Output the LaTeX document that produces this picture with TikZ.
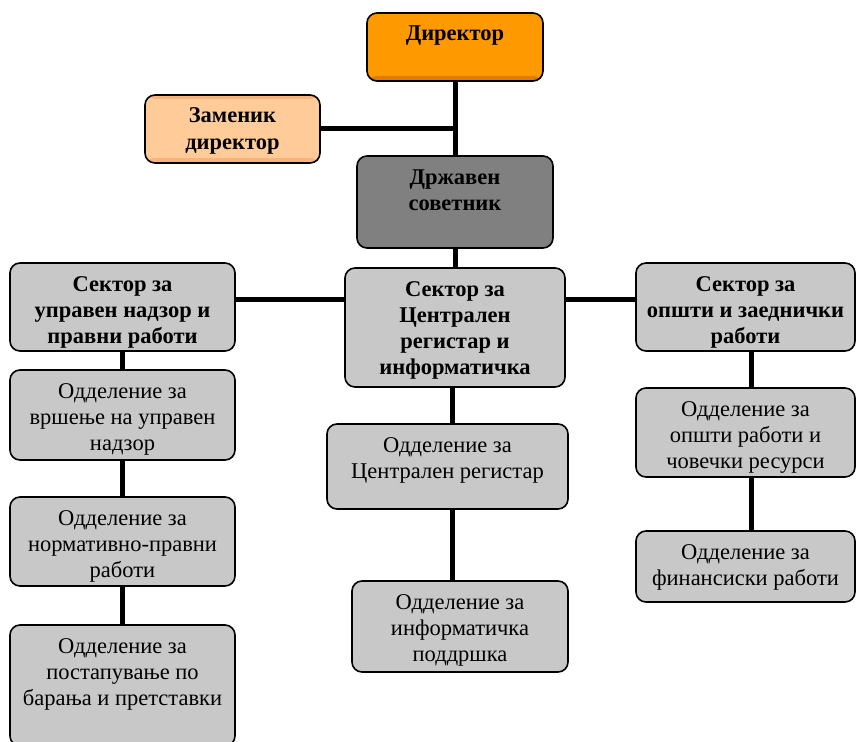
\documentclass[tikz,border=0pt]{standalone}
\usepackage{fontspec}
\setmainfont{Liberation Serif}
\usetikzlibrary{backgrounds}
\definecolor{dirorange}{HTML}{FF9900}
\definecolor{dirdark}{HTML}{E07A00}
\definecolor{deplight}{HTML}{FFCC99}
\definecolor{depdark}{HTML}{F9B27C}
\definecolor{boxgray}{HTML}{C8C8C8}
\definecolor{darkgray}{HTML}{808080}
\tikzset{
  orgbox/.style={draw=black, line width=1.6pt, rounded corners=10pt, inner sep=0pt, fill=boxgray,
    font=\fontsize{22.5}{26}\selectfont},
  headbox/.style={orgbox, font=\fontsize{22.5}{26}\selectfont\bfseries},
  link/.style={line width=5pt, black},
  dirbox/.style={headbox, fill=dirorange,
    path picture={\fill[dirdark] (path picture bounding box.south west) rectangle ([yshift=5pt]path picture bounding box.south east);}},
  depbox/.style={headbox, fill=deplight,
    path picture={\fill[depdark] (path picture bounding box.south west) rectangle ([yshift=5pt]path picture bounding box.south east);
                  \fill[depdark] (path picture bounding box.north west) rectangle ([yshift=-4pt]path picture bounding box.north east);}},
}
\newcommand\orgnode[7][orgbox]{%
  \node[#1] (#2) at ({(#3+#5)/2},{(#4+#6)/2})
    {\parbox[c][\dimexpr#6pt-#4pt\relax][t]{\dimexpr#5pt-#3pt\relax}{\centering\rule{0pt}{28pt}#7\par}};}
\begin{document}
\begin{tikzpicture}[x=1pt,y=-1pt]
\useasboundingbox (0,0) rectangle (856,741);
% top
\orgnode[dirbox]{dir}{367}{13}{543}{81}{Директор}
\orgnode[depbox]{dep}{145}{95}{320}{163}{Заменик\\директор}
\orgnode[headbox, fill=darkgray]{sa}{357}{156}{553}{248}{Државен\\советник}
% sectors
\orgnode[headbox]{ls}{10}{263}{235}{351}{Сектор за\\управен надзор и\\правни работи}
\orgnode[headbox]{cs}{345}{268}{565}{387}{Сектор за\\Централен\\регистар и\\информатичка}
\orgnode[headbox]{rs}{636}{263}{855}{351}{Сектор за\\општи и заеднички\\работи}
% left departments
\orgnode{l1}{10}{370}{235}{460}{Одделение за\\вршење на управен\\надзор}
\orgnode{l2}{10}{497}{235}{586}{Одделение за\\нормативно-правни\\работи}
\orgnode{l3}{10}{625}{235}{746}{Одделение за\\постапување по\\барања и претставки}
% centre departments
\orgnode{c1}{327}{424}{568}{509}{Одделение за\\Централен регистар}
\orgnode{c2}{352}{581}{568}{672}{Одделение за\\информатичка\\поддршка}
% right departments
\orgnode{r1}{636}{388}{855}{477}{Одделение за\\општи работи и\\човечки ресурси}
\orgnode{r2}{636}{531}{855}{602}{Одделение за\\финансиски работи}
% connectors
\coordinate (hy) at (0,299);
\coordinate (cx) at (452,0);
\coordinate (rx) at (751,0);
\begin{scope}[on background layer]
\draw[link] (dir.south) -- (sa.north);
\draw[link] (dep.east) -- (dep.east -| dir.south);
\draw[link] (sa.south) -- (cs.north);
\draw[link] (ls.east |- hy) -- (cs.west |- hy);
\draw[link] (cs.east |- hy) -- (rs.west |- hy);
\draw[link] (ls.south) -- (l1.north);
\draw[link] (l1.south) -- (l2.north);
\draw[link] (l2.south) -- (l3.north);
\draw[link] (cs.south -| cx) -- (c1.north -| cx);
\draw[link] (c1.south -| cx) -- (c2.north -| cx);
\draw[link] (rs.south -| rx) -- (r1.north -| rx);
\draw[link] (r1.south -| rx) -- (r2.north -| rx);
\end{scope}
\end{tikzpicture}
\end{document}
